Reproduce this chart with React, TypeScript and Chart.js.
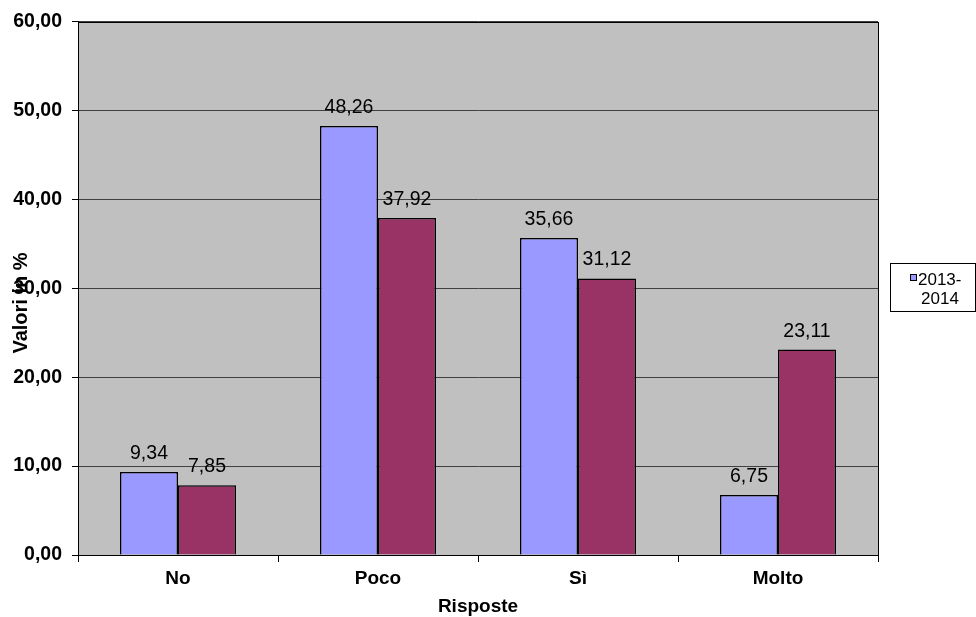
import React, { useEffect, useRef } from "react";
import { Chart, registerables } from "chart.js";

Chart.register(...registerables);

const categories = ["No", "Poco", "Sì", "Molto"];
const series1Label = "2013-2014";
const series1Values = [9.34, 48.26, 35.66, 6.75];
const series2Label = "2014-2015";
const series2Values = [7.85, 37.92, 31.12, 23.11];
const yMin = 0;
const yMax = 60;
const yStep = 10;
const xTitle = "Risposte";
const yTitle = "Valori in %";

const FONT = "'Liberation Sans', Arial, sans-serif";
const fmt = (v: number) => v.toFixed(2).replace(".", ",");

const decorPlugin = {
  id: "decor",
  beforeDraw(chart: any) {
    const { ctx, chartArea: a } = chart;
    ctx.save();
    ctx.fillStyle = "#ffffff";
    ctx.fillRect(0, 0, chart.width, chart.height);
    ctx.fillStyle = "#c0c0c0";
    ctx.fillRect(a.left, a.top, a.right - a.left, a.bottom - a.top);
    ctx.restore();
  },
  afterDraw(chart: any) {
    const { ctx, chartArea: a } = chart;
    ctx.save();
    // plot border
    ctx.strokeStyle = "#000";
    ctx.lineWidth = 1;
    ctx.strokeRect(Math.round(a.left) + 0.5, Math.round(a.top) + 0.5, Math.round(a.right - a.left), Math.round(a.bottom - a.top));

    // data labels
    ctx.fillStyle = "#000";
    ctx.font = `19.5px ${FONT}`;
    ctx.textAlign = "center";
    ctx.textBaseline = "alphabetic";
    chart.data.datasets.forEach((ds: any, di: number) => {
      const meta = chart.getDatasetMeta(di);
      meta.data.forEach((bar: any, i: number) => {
        ctx.fillText(fmt(ds.data[i]), bar.x, bar.y - 13);
      });
    });

    // x title
    ctx.font = `bold 19px ${FONT}`;
    ctx.textAlign = "center";
    ctx.fillText(xTitle, (a.left + a.right) / 2, 612);

    // y title
    ctx.save();
    ctx.translate(27, 303);
    ctx.rotate(-Math.PI / 2);
    ctx.font = `bold 20px ${FONT}`;
    ctx.textAlign = "center";
    ctx.fillText(yTitle, 0, 0);
    ctx.restore();

    // legend
    const lx = 890, ly = 263, lw = 85, lh = 48;
    ctx.fillStyle = "#fff";
    ctx.fillRect(lx, ly, lw, lh);
    ctx.strokeStyle = "#000";
    ctx.strokeRect(lx + 0.5, ly + 0.5, lw, lh);
    ctx.fillStyle = chart.data.datasets[0].backgroundColor;
    ctx.fillRect(910.5, 274.5, 6, 6);
    ctx.strokeRect(910.5, 274.5, 6, 6);
    ctx.fillStyle = "#000";
    ctx.font = `17px ${FONT}`;
    const parts = series1Label.split("-");
    ctx.textAlign = "left";
    ctx.textBaseline = "middle";
    ctx.fillText(parts[0] + "-", 918, 280);
    ctx.textAlign = "center";
    ctx.fillText(parts[1], 940, 299);
    ctx.restore();
  },
};

export default function App() {
  const ref = useRef<HTMLCanvasElement | null>(null);
  useEffect(() => {
    if (!ref.current) return;
    const chart = new Chart(ref.current, {
      type: "bar",
      data: {
        labels: categories,
        datasets: [
          {
            label: series1Label,
            data: series1Values,
            backgroundColor: "#9999ff",
            borderColor: "#000",
            borderWidth: 1.5,
            barPercentage: 1,
            categoryPercentage: 0.58,
          },
          {
            label: series2Label,
            data: series2Values,
            backgroundColor: "#993366",
            borderColor: "#000",
            borderWidth: 1.5,
            barPercentage: 1,
            categoryPercentage: 0.58,
          },
        ],
      },
      options: {
        responsive: false,
        animation: false,
        devicePixelRatio: 1,
        layout: { padding: { top: 19, right: 98, left: 0, bottom: 0 } },
        plugins: {
          legend: { display: false },
          tooltip: { enabled: false },
        },
        scales: {
          x: {
            grid: {
              offset: true,
              drawOnChartArea: false,
              drawTicks: true,
              tickLength: 7,
              color: "#000",
            },
            border: { display: true, color: "#000" },
            ticks: {
              color: "#000",
              padding: 5,
              font: { family: FONT, size: 19, weight: "bold" },
            },
            afterFit(scale: any) {
              scale.height = 62;
            },
          },
          y: {
            min: yMin,
            max: yMax,
            grid: {
              color: "#404040",
              tickLength: 6,
              tickColor: "#000",
            },
            border: { display: true, color: "#000" },
            ticks: {
              stepSize: yStep,
              color: "#000",
              padding: 10,
              font: { family: FONT, size: 19.5, weight: "bold" },
              callback: (v: any) => fmt(Number(v)),
            },
            afterFit(scale: any) {
              scale.width = 78;
            },
          },
        },
      },
      plugins: [decorPlugin],
    });
    return () => chart.destroy();
  }, []);
  return (
    <div style={{ position: "fixed", left: 0, top: 0, width: 976, height: 617, background: "#fff" }}>
      <canvas ref={ref} width={976} height={617} style={{ width: 976, height: 617, display: "block" }} />
    </div>
  );
}
